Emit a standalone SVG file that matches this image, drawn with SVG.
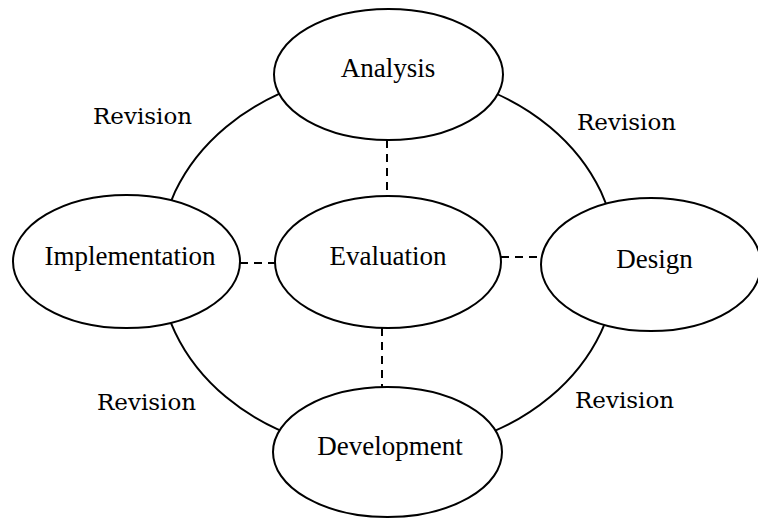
<svg xmlns="http://www.w3.org/2000/svg" width="758" height="518" viewBox="0 0 758 518">
<style>
.node{fill:#fff;stroke:#000;stroke-width:2}
.arc{fill:none;stroke:#000;stroke-width:2}
.dash{fill:none;stroke:#000;stroke-width:2;stroke-dasharray:8,6}
.lbl{font-family:"Liberation Serif","Times New Roman",serif;font-size:27px;fill:#000;text-anchor:middle}
.rev{font-family:"DejaVu Serif","Liberation Serif",serif;font-size:23px;fill:#000}
</style>
<rect width="758" height="518" fill="#fff"/>
<g id="connectors">
<path class="arc" d="M388,71 A229,191 0 0 0 159,262"/>
<path class="arc" d="M388,71 A229,191 0 0 1 617,262"/>
<path class="arc" d="M159,262 A229,191 0 0 0 388,453"/>
<path class="arc" d="M617,262 A229,191 0 0 1 388,453"/>
<line class="dash" x1="387" y1="140" x2="387" y2="196"/>
<line class="dash" x1="382" y1="328" x2="382" y2="387"/>
<line class="dash" x1="240" y1="263" x2="276" y2="263"/>
<line class="dash" x1="501" y1="257" x2="541" y2="257"/>
<text class="rev" x="93" y="124">Revision</text>
<text class="rev" x="577" y="130">Revision</text>
<text class="rev" x="97" y="410">Revision</text>
<text class="rev" x="575" y="408">Revision</text>
</g>
<g id="analysis">
<ellipse class="node" cx="388.5" cy="74.5" rx="114.5" ry="65.5"/>
<text class="lbl" x="388" y="77">Analysis</text>
</g>
<g id="implementation">
<ellipse class="node" cx="126.5" cy="261.5" rx="113.5" ry="66.5"/>
<text class="lbl" x="130" y="265">Implementation</text>
</g>
<g id="evaluation">
<ellipse class="node" cx="388" cy="262" rx="113" ry="66"/>
<text class="lbl" x="388" y="265">Evaluation</text>
</g>
<g id="design">
<ellipse class="node" cx="651" cy="264.5" rx="110" ry="66.5"/>
<text class="lbl" x="654.5" y="268">Design</text>
</g>
<g id="development">
<ellipse class="node" cx="387.5" cy="452" rx="114.5" ry="65"/>
<text class="lbl" x="390" y="455">Development</text>
</g>
</svg>
